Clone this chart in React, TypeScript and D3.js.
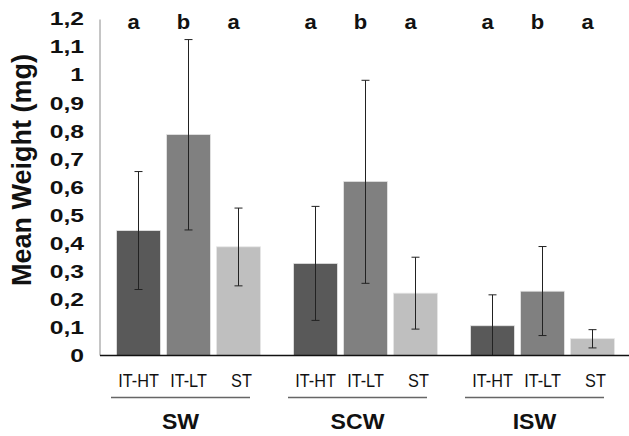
import React from "react";
import * as d3 from "d3";

const groups = ["SW", "SCW", "ISW"];
const treatments = ["IT-HT", "IT-LT", "ST"];
const means = [
  [0.445, 0.787, 0.387],
  [0.328, 0.62, 0.222],
  [0.106, 0.229, 0.06],
];
const errLow = [
  [0.235, 0.447, 0.248],
  [0.125, 0.257, 0.094],
  [0.0, 0.071, 0.027],
];
const errHigh = [
  [0.655, 1.125, 0.525],
  [0.531, 0.98, 0.35],
  [0.216, 0.388, 0.092],
];
const letters = [
  ["a", "b", "a"],
  ["a", "b", "a"],
  ["a", "b", "a"],
];
const yTicks = [0, 0.1, 0.2, 0.3, 0.4, 0.5, 0.6, 0.7, 0.8, 0.9, 1, 1.1, 1.2];
const colors = ["#595959", "#808080", "#bfbfbf"];

export default function App() {
  const W = 629;
  const H = 436;
  const x0 = d3.scaleBand<string>().domain(groups).range([100, 631]).paddingInner(0).paddingOuter(0);
  const x1 = d3
    .scaleBand<string>()
    .domain(treatments)
    .range([0, x0.bandwidth()])
    .paddingInner(0.12)
    .paddingOuter(0.33);
  const y = d3.scaleLinear().domain([0, 1.2]).range([355.5, 18.5]);
  const fmt = (v: number) => d3.format(".1~f")(v).replace(".", ",");
  const font = "'Liberation Sans', Arial, sans-serif";
  const bw = x1.bandwidth();

  return (
    <svg width={W} height={H} style={{ position: "absolute", left: 0, top: 0, background: "#fff" }} fontFamily={font}>
      <rect x={0} y={0} width={W} height={H} fill="#fff" />
      {/* y axis line */}
      <line x1={100} x2={100} y1={y(1.2) + 1} y2={y(0)} stroke="#8c8c8c" strokeWidth={1} />
      {/* y tick labels */}
      {yTicks.map((t) => (
        <text
          key={t}
          transform={`translate(84,${y(t) + 6.8}) scale(1.3,1)`}
          textAnchor="end"
          fontSize={19}
          fontWeight="bold"
          fill="#111"
        >
          {fmt(t)}
        </text>
      ))}
      {/* y label */}
      <text
        transform={`translate(31,170) rotate(-90)`}
        textAnchor="middle"
        fontSize={27}
        fontWeight="bold"
        fill="#111"
      >
        Mean Weight (mg)
      </text>
      {groups.map((g, gi) => {
        const gx = x0(g)!;
        return (
          <g key={g}>
            {treatments.map((t, ti) => {
              const bx = gx + x1(t)!;
              const cx = bx + bw / 2;
              return (
                <g key={t}>
                  <rect
                    x={bx}
                    y={y(means[gi][ti])}
                    width={bw}
                    height={y(0) - y(means[gi][ti])}
                    fill={colors[ti]}
                    stroke="#e6e6e6"
                    strokeWidth={0.8}
                  />
                  <line x1={cx} x2={cx} y1={y(errHigh[gi][ti])} y2={y(errLow[gi][ti])} stroke="#222" strokeWidth={1} />
                  <line x1={cx - 4} x2={cx + 4} y1={y(errHigh[gi][ti])} y2={y(errHigh[gi][ti])} stroke="#222" strokeWidth={1} />
                  {errLow[gi][ti] > 0 && (
                    <line x1={cx - 4} x2={cx + 4} y1={y(errLow[gi][ti])} y2={y(errLow[gi][ti])} stroke="#222" strokeWidth={1} />
                  )}
                  <text
                    transform={`translate(${cx - 5},28.5) scale(1.1,1)`}
                    textAnchor="middle"
                    fontSize={20}
                    fontWeight="bold"
                    fill="#111"
                  >
                    {letters[gi][ti]}
                  </text>
                  <text
                    transform={`translate(${cx + (ti === 2 ? 3 : 0)},386.7) scale(0.88,1)`}
                    textAnchor="middle"
                    fontSize={18.5}
                    fill="#111"
                  >
                    {t}
                  </text>
                </g>
              );
            })}
            <line x1={gx + 11} x2={gx + 150} y1={397.5} y2={397.5} stroke="#666" strokeWidth={1.3} />
            <text
              transform={`translate(${x0.bandwidth() / 2 + gx - 8},429) scale(1.05,1)`}
              textAnchor="middle"
              fontSize={22}
              fontWeight="bold"
              fill="#111"
            >
              {g}
            </text>
          </g>
        );
      })}
      {/* baseline */}
      <line x1={100} x2={629} y1={y(0)} y2={y(0)} stroke="#111" strokeWidth={1.5} />
    </svg>
  );
}
